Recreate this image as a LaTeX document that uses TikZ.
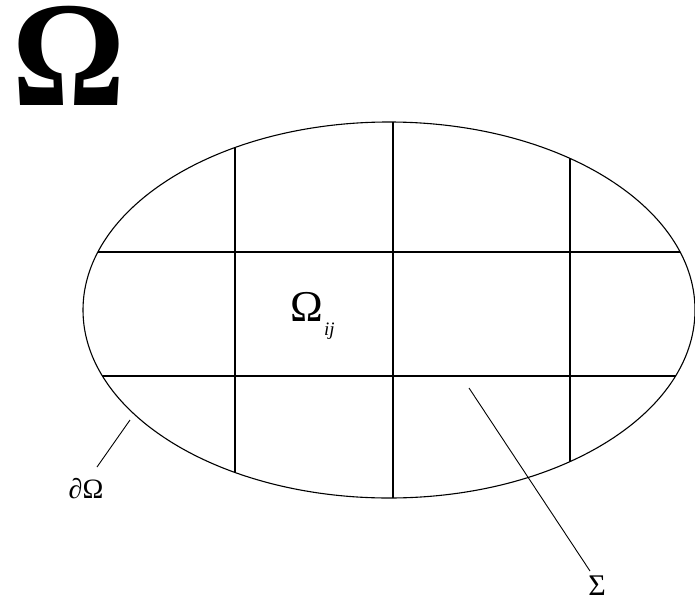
\documentclass[tikz,border=0pt]{standalone}
\usepackage{fontspec}
\setmainfont{Liberation Serif}
\begin{document}
\begin{tikzpicture}[x=1pt,y=-1pt,
  thin line/.style={line width=1.1pt,black},
  leader/.style={line width=0.9pt,black}]
\useasboundingbox (0,0) rectangle (695,602);
\fill[white] (0,0) rectangle (695,602);
% domain boundary
\coordinate (c) at (389,310);
\begin{scope}
  \clip (c) ellipse [x radius=306, y radius=188];
  \draw[thin line] (0,252) -- (695,252);
  \draw[thin line] (0,376) -- (695,376);
  \draw[thin line] (235,0) -- (235,602);
  \draw[thin line] (393,0) -- (393,602);
  \draw[thin line] (570,0) -- (570,602);
\end{scope}
\draw[thin line] (c) ellipse [x radius=306, y radius=188];
% labels
\node[anchor=base west,inner sep=0pt] (bigomega) at (12,105) {\scalebox{0.94}[1]{\fontsize{150}{150}\selectfont\bfseries Ω}};
\node (omij) at (307,307) {\fontsize{44}{44}\selectfont Ω};
\node[anchor=west,inner sep=0pt] (ij) at (324,331) {\fontsize{19}{19}\selectfont\itshape ij};
\node (domega) at (86,489) {\fontsize{28}{28}\selectfont ∂Ω};
\node (sigma) at (597,586) {\fontsize{30}{30}\selectfont Σ};
% leaders
\coordinate (d1) at (130,420);
\coordinate (d2) at (97,467);
\draw[leader] (d1) -- (d2);
\coordinate (s1) at (469,388);
\coordinate (s2) at (590,571);
\draw[leader] (s1) -- (s2);
\end{tikzpicture}
\end{document}
